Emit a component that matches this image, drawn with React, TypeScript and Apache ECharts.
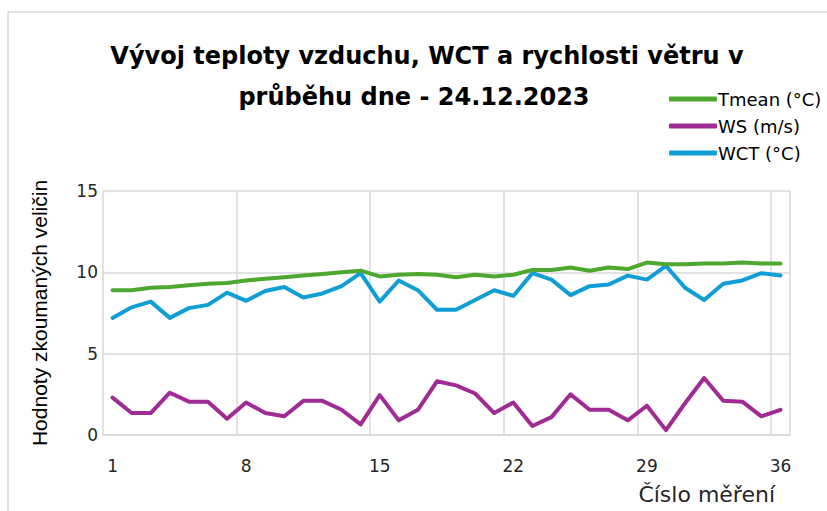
import React, { useEffect, useRef } from "react";
import * as echarts from "echarts";

const categories = [
  "1", "2", "3", "4", "5", "6", "7", "8", "9", "10", "11", "12",
  "13", "14", "15", "16", "17", "18", "19", "20", "21", "22", "23", "24",
  "25", "26", "27", "28", "29", "30", "31", "32", "33", "34", "35", "36",
];

const tmean = [
  8.9, 8.9, 9.05, 9.1, 9.2, 9.3, 9.35, 9.5, 9.6, 9.7, 9.8, 9.9,
  10.0, 10.1, 9.75, 9.85, 9.9, 9.85, 9.7, 9.85, 9.75, 9.85, 10.15, 10.15,
  10.3, 10.1, 10.3, 10.2, 10.6, 10.5, 10.5, 10.55, 10.55, 10.6, 10.55, 10.55,
];

const ws = [
  2.3, 1.35, 1.35, 2.6, 2.05, 2.05, 1.0, 2.0, 1.35, 1.15, 2.1, 2.1,
  1.55, 0.65, 2.45, 0.9, 1.55, 3.3, 3.05, 2.55, 1.35, 2.0, 0.55, 1.1,
  2.5, 1.55, 1.55, 0.9, 1.8, 0.3, 1.95, 3.5, 2.1, 2.05, 1.15, 1.55,
];

const wct = [
  7.2, 7.85, 8.2, 7.2, 7.8, 8.0, 8.75, 8.25, 8.85, 9.1, 8.45, 8.7,
  9.15, 9.95, 8.2, 9.5, 8.9, 7.7, 7.7, 8.3, 8.9, 8.55, 9.95, 9.55,
  8.6, 9.15, 9.25, 9.8, 9.55, 10.4, 9.05, 8.3, 9.3, 9.5, 9.95, 9.8,
];

const yTicks = { min: 0, max: 15, interval: 5 };

const seriesNames = ["Tmean (°C)", "WS (m/s)", "WCT (°C)"];
const seriesColors = ["#4EA72E", "#A02B93", "#0F9ED5"];

const titleLine1 = "Vývoj teploty vzduchu, WCT a rychlosti větru v";
const titleLine2 = "průběhu dne - 24.12.2023";
const yAxisName = "Hodnoty zkoumaných veličin";
const xAxisName = "Číslo měření";

const FONT = "DejaVu Sans, Verdana, sans-serif";

export default function App() {
  const ref = useRef<HTMLDivElement>(null);

  useEffect(() => {
    if (!ref.current) return;
    const chart = echarts.init(ref.current, undefined, { renderer: "svg" });
    const seriesData = [tmean, ws, wct];
    const titleStyle = {
      fontFamily: FONT,
      fontWeight: "bold",
      fontSize: 24,
      color: "#000000",
    };
    chart.setOption({
      animation: false,
      backgroundColor: "#ffffff",
      title: [
        { text: titleLine1, left: 427, top: 44, textAlign: "center", padding: 0, textStyle: titleStyle },
        { text: titleLine2, left: 414, top: 85, textAlign: "center", padding: 0, textStyle: titleStyle },
      ],
      legend: {
        orient: "vertical",
        left: 664,
        top: 84,
        itemWidth: 48,
        itemHeight: 5,
        itemGap: 7,
        icon: "roundRect",
        textStyle: {
          fontFamily: FONT,
          fontSize: 18,
          color: "#000000",
          padding: [0, 0, 0, -4],
          lineHeight: 20,
        },
        data: seriesNames,
      },
      graphic: [
        {
          type: "rect",
          shape: { x: 8, y: 12, width: 840, height: 520 },
          style: { fill: "none", stroke: "#d9d9d9", lineWidth: 1.5 },
          silent: true,
          z: -10,
        },
        {
          type: "text",
          right: 52,
          top: 483,
          style: {
            text: xAxisName,
            fontFamily: FONT,
            fontSize: 22,
            fill: "#262626",
          },
        },
      ],
      grid: { left: 103, right: 37, top: 191, bottom: 76, containLabel: false },
      xAxis: {
        type: "category",
        boundaryGap: true,
        data: categories,
        axisLine: { show: true, lineStyle: { color: "#d9d9d9", width: 1.5 } },
        axisTick: { show: false, interval: 6 },
        axisLabel: {
          interval: 6,
          margin: 22,
          fontFamily: FONT,
          fontSize: 17,
          color: "#262626",
        },
        splitLine: { show: true, interval: 6, lineStyle: { color: "#d9d9d9", width: 1.5 } },
      },
      yAxis: {
        type: "value",
        min: yTicks.min,
        max: yTicks.max,
        interval: yTicks.interval,
        name: yAxisName,
        nameLocation: "middle",
        nameGap: 53,
        nameTextStyle: {
          fontFamily: "Liberation Sans, Arial, sans-serif",
          fontSize: 21,
          color: "#000000",
        },
        axisLine: { show: false },
        axisTick: { show: false },
        axisLabel: {
          margin: 5,
          fontFamily: FONT,
          fontSize: 17,
          color: "#262626",
        },
        splitLine: { show: true, lineStyle: { color: "#d9d9d9", width: 1.5 } },
      },
      series: seriesNames.map((name, i) => ({
        name,
        type: "line",
        data: seriesData[i],
        symbol: "none",
        color: seriesColors[i],
        lineStyle: { width: 4, color: seriesColors[i], join: "round", cap: "round" },
        z: 10 - i,
      })),
    });
    return () => chart.dispose();
  }, []);

  return (
    <div
      ref={ref}
      style={{ position: "fixed", left: 0, top: 0, width: 827, height: 511 }}
    />
  );
}
